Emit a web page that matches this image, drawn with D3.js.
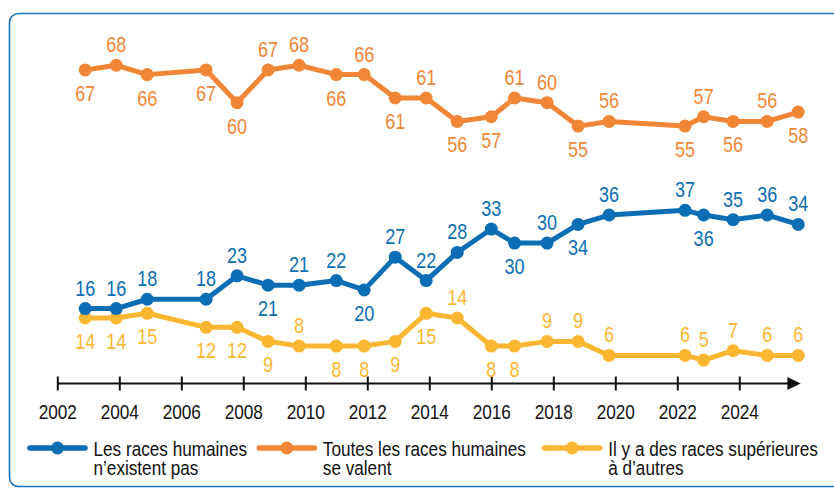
<!DOCTYPE html>
<html>
<head>
<meta charset="utf-8">
<script src="https://cdn.jsdelivr.net/npm/d3@7"></script>
<style>
  html, body { margin: 0; padding: 0; background: #fff; }
  svg { display: block; font-family: "Liberation Sans", Arial, sans-serif; }
</style>
</head>
<body>
<div id="chart"></div>
<script>
// survey dates (decimal years)
var years = [2002.9, 2003.9, 2004.9, 2006.8, 2007.8, 2008.8, 2009.8, 2011.0, 2011.9, 2012.9, 2013.9,
  2014.9, 2016.0, 2016.75, 2017.8, 2018.8, 2019.8, 2022.25, 2022.85, 2023.8, 2024.9, 2025.9]

// percentages per answer
var existentPas = [16, 16, 18, 18, 23, 21, 21, 22, 20, 27, 22, 28, 33, 30, 30, 34, 36, 37, 36, 35, 36, 34]
var seValent = [67, 68, 66, 67, 60, 67, 68, 66, 66, 61, 61, 56, 57, 61, 60, 55, 56, 55, 57, 56, 56, 58]
var superieures = [14, 14, 15, 12, 12, 9, 8, 8, 8, 9, 15, 14, 8, 8, 9, 9, 6, 6, 5, 7, 6, 6]

// label side for each point: 'a' above, 'b' below
var sideBlue = ['a', 'a', 'a', 'a', 'a', 'b', 'a', 'a', 'b', 'a', 'a', 'a', 'a', 'b', 'a', 'b', 'a', 'a', 'b', 'a', 'a', 'a']
var sideOrange = ['b', 'a', 'b', 'b', 'b', 'a', 'a', 'b', 'a', 'b', 'a', 'b', 'b', 'a', 'a', 'b', 'a', 'b', 'a', 'b', 'a', 'b']
var sideYellow = ['b', 'b', 'b', 'b', 'b', 'b', 'a', 'b', 'b', 'b', 'b', 'a', 'b', 'b', 'a', 'a', 'a', 'a', 'a', 'a', 'a', 'a']

var tickYears = [2002, 2004, 2006, 2008, 2010, 2012, 2014, 2016, 2018, 2020, 2022, 2024]

var seriesNames = ['Les races humaines\nn\u2019existent pas', 'Toutes les races humaines\nse valent', 'Il y a des races sup\u00e9rieures\n\u00e0 d\u2019autres']

const width = 834
const height = 488
var colors = ['#0b6eb4', '#f08636', '#fbb731']
var narrow = 0.82 // horizontal squeeze to mimic a condensed face

var svg = d3.select('#chart').append('svg')
  .attr('width', width)
  .attr('height', height)

// frame
svg.append('rect')
  .attr('x', 9.5).attr('y', 13.5)
  .attr('width', 840).attr('height', 473)
  .attr('rx', 9).attr('ry', 9)
  .attr('fill', 'none')
  .attr('stroke', '#1c75bf')
  .attr('stroke-width', 1.6)

var x = d3.scaleLinear().domain([2002, 2024]).range([57.3, 739.3])
var y = d3.scaleLinear().domain([0, 10]).range([383.5, 336.7])

// x axis
var axisY = y(0)
var axis = svg.append('g')
  .attr('transform', 'translate(0,' + axisY + ')')
  .call(d3.axisBottom(x).tickValues(tickYears).tickFormat(d3.format('d')).tickSize(7).tickPadding(14))
axis.select('.domain').remove()
axis.selectAll('.tick line').attr('y1', -7).attr('y2', 7).attr('stroke', '#111').attr('stroke-width', 2)
axis.selectAll('.tick text')
  .attr('fill', '#111')
  .attr('transform', 'scale(' + narrow + ',1)')
  .style('font-size', '21px')
  .style('font-family', '"Liberation Sans", Arial, sans-serif')

svg.append('line')
  .attr('x1', x(2002)).attr('x2', x(2025.6))
  .attr('y1', axisY).attr('y2', axisY)
  .attr('stroke', '#111').attr('stroke-width', 2)
svg.append('path')
  .attr('d', 'M' + x(2025.55) + ',' + (axisY - 6.5) + 'L' + x(2025.98) + ',' + axisY + 'L' + x(2025.55) + ',' + (axisY + 6.5) + 'Z')
  .attr('fill', '#111')

var series = [
  { values: existentPas, side: sideBlue, color: colors[0] },
  { values: seValent, side: sideOrange, color: colors[1] },
  { values: superieures, side: sideYellow, color: colors[2] }
]

var line = d3.line()
  .x(function (d) { return x(d[0]) })
  .y(function (d) { return y(d[1]) })

// draw yellow first, then orange, then blue on top
;[2, 1, 0].forEach(function (k) {
  var s = series[k]
  var pts = years.map(function (yr, i) { return [yr, s.values[i]] })
  var g = svg.append('g')
  g.append('path')
    .datum(pts)
    .attr('d', line)
    .attr('fill', 'none')
    .attr('stroke', s.color)
    .attr('stroke-width', 5)
    .attr('stroke-linejoin', 'round')
  g.selectAll('circle')
    .data(pts)
    .enter()
    .append('circle')
    .attr('cx', function (d) { return x(d[0]) })
    .attr('cy', function (d) { return y(d[1]) })
    .attr('r', 6.5)
    .attr('fill', s.color)
  g.selectAll('text')
    .data(pts)
    .enter()
    .append('text')
    .attr('transform', function (d, i) {
      var ty = y(d[1]) + (s.side[i] == 'a' ? -13 : 31)
      return 'translate(' + x(d[0]) + ',' + ty + ') scale(' + narrow + ',1)'
    })
    .attr('text-anchor', 'middle')
    .attr('fill', s.color)
    .style('font-size', '22px')
    .text(function (d) { return d[1] })
})

// legend, each line its own text
var legendX = [30, 259.3, 544.7]
var legend = svg.append('g')
seriesNames.forEach(function (name, k) {
  var lx = legendX[k]
  var g = legend.append('g').attr('transform', 'translate(' + lx + ',448)')
  g.append('line')
    .attr('x1', 0).attr('x2', 55)
    .attr('stroke', colors[k]).attr('stroke-width', 5.5).attr('stroke-linecap', 'round')
  g.append('circle').attr('cx', 27.5).attr('r', 6.5).attr('fill', colors[k])
  name.split('\n').forEach(function (part, j) {
    g.append('text')
      .attr('transform', 'translate(63.5,' + (7.5 + j * 19.5) + ') scale(0.88,1)')
      .attr('fill', '#111')
      .style('font-size', '19.5px')
      .text(part)
  })
})
</script>
</body>
</html>
